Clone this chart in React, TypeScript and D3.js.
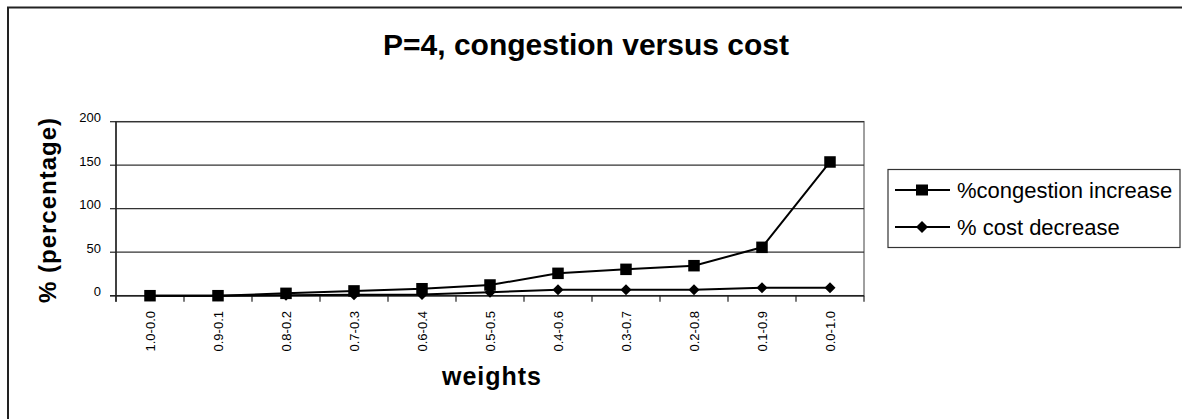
import React from "react";
import * as d3 from "d3";

const categories = ["1.0-0.0", "0.9-0.1", "0.8-0.2", "0.7-0.3", "0.6-0.4", "0.5-0.5", "0.4-0.6", "0.3-0.7", "0.2-0.8", "0.1-0.9", "0.0-1.0"];
const congestionIncrease = [0, 0, 2.7, 5.5, 8, 12.3, 25.7, 30.3, 34.5, 55.6, 153.7];
const costDecrease = [0, 0, 0.5, 1, 1.5, 4, 6.9, 6.9, 6.9, 9.2, 9.2];
const yTicks = [0, 50, 100, 150, 200];
const seriesNames = ["%congestion increase", "% cost decrease"];

const W = 1182;
const H = 419;
const plot = { left: 116, right: 864, top: 121.7, bottom: 295.7 };
const FONT = "'Liberation Sans', Arial, Helvetica, sans-serif";

export default function App() {
  const x = d3.scaleBand<string>().domain(categories).range([plot.left, plot.right]).padding(0);
  const y = d3.scaleLinear().domain([0, 200]).range([plot.bottom, plot.top]);
  const cx = (c: string) => (x(c) as number) + x.bandwidth() / 2;

  const line = d3
    .line<number>()
    .x((_, i) => cx(categories[i]))
    .y((d) => y(d));

  const sq = 11.5;
  const diamond = (px: number, py: number, r: number) =>
    `M${px},${py - r}L${px + r},${py}L${px},${py + r}L${px - r},${py}Z`;

  const boundaries = d3.range(categories.length + 1).map((i) => plot.left + i * x.bandwidth());

  return (
    <svg width={W} height={H} style={{ position: "absolute", left: 0, top: 0, background: "#fff", overflow: "hidden" }} fontFamily={FONT}>
      {/* outer frame: only top and left edges fall inside the picture */}
      <path d={`M8,${H}L8,7.5L${W},7.5`} fill="none" stroke="#222" strokeWidth={2} />

      {/* title */}
      <text x={586} y={55} textAnchor="middle" fontSize={30} fontWeight="bold" fill="#000">
        P=4, congestion versus cost
      </text>

      {/* plot frame */}
      <rect x={plot.left} y={plot.top} width={plot.right - plot.left} height={plot.bottom - plot.top} fill="#fff" stroke="#808080" strokeWidth={1.5} />

      {/* gridlines */}
      {yTicks.map((t) => (
        <line key={"g" + t} x1={plot.left} x2={plot.right} y1={y(t)} y2={y(t)} stroke="#333" strokeWidth={1.2} />
      ))}

      {/* y axis */}
      <line x1={plot.left} x2={plot.left} y1={plot.top} y2={plot.bottom + 6} stroke="#222" strokeWidth={1.5} />
      {yTicks.map((t) => (
        <g key={"yt" + t}>
          <line x1={plot.left - 6} x2={plot.left} y1={y(t)} y2={y(t)} stroke="#222" strokeWidth={1.2} />
          <text x={101} y={y(t) + 0.5} textAnchor="end" fontSize={13} fill="#000">
            {t}
          </text>
        </g>
      ))}

      {/* x axis */}
      <line x1={plot.left - 6} x2={plot.right} y1={plot.bottom} y2={plot.bottom} stroke="#222" strokeWidth={1.5} />
      {boundaries.map((bx, i) => (
        <line key={"xt" + i} x1={bx} x2={bx} y1={plot.bottom} y2={plot.bottom + 6} stroke="#222" strokeWidth={1.2} />
      ))}
      {categories.map((c) => (
        <text
          key={"xl" + c}
          transform={`translate(${cx(c) + 4.5},${311}) rotate(-90)`}
          textAnchor="end"
          fontSize={13}
          fill="#000"
        >
          {c}
        </text>
      ))}

      {/* axis titles */}
      <text x={492} y={385} textAnchor="middle" fontSize={25} fontWeight="bold" letterSpacing={1} fill="#000">
        weights
      </text>
      <text transform={`translate(${56},${210}) rotate(-90)`} textAnchor="middle" fontSize={24} fontWeight="bold" letterSpacing={1} fill="#000">
        % (percentage)
      </text>

      {/* series: cost decrease */}
      <path d={line(costDecrease) as string} fill="none" stroke="#000" strokeWidth={2} />
      {costDecrease.map((v, i) => (
        <path key={"d" + i} d={diamond(cx(categories[i]), y(v), 5.5)} fill="#000" />
      ))}

      {/* series: congestion increase */}
      <path d={line(congestionIncrease) as string} fill="none" stroke="#000" strokeWidth={2} />
      {congestionIncrease.map((v, i) => (
        <rect key={"s" + i} x={cx(categories[i]) - sq / 2} y={y(v) - sq / 2} width={sq} height={sq} fill="#000" />
      ))}

      {/* legend */}
      <rect x={888} y={169.5} width={292} height={78} fill="#fff" stroke="#333" strokeWidth={1.2} />
      <line x1={895} x2={950} y1={190} y2={190} stroke="#000" strokeWidth={2} />
      <rect x={922 - 6} y={190 - 5.5} width={12} height={11} fill="#000" />
      <text x={957} y={198} fontSize={22} fill="#000">
        {seriesNames[0]}
      </text>
      <line x1={895} x2={950} y1={227} y2={227} stroke="#000" strokeWidth={2} />
      <path d={diamond(922, 227, 6)} fill="#000" />
      <text x={957} y={235} fontSize={22} fill="#000">
        {seriesNames[1]}
      </text>
    </svg>
  );
}
